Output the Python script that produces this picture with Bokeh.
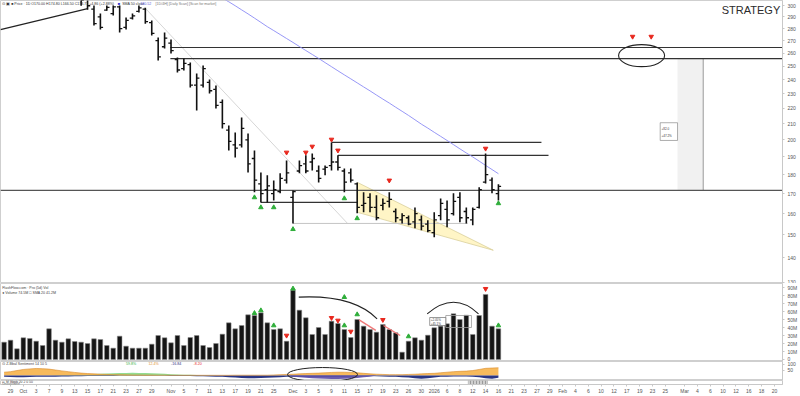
import math
from bokeh.plotting import figure
from bokeh.layouts import column
from bokeh.models import Range1d, FixedTicker, Label, NumeralTickFormatter, ColumnDataSource
from bokeh.core.properties import value
from bokeh.embed import file_html
from bokeh.resources import INLINE

FONT = "Liberation Sans"

# ---------------- data (trading-day index; -1 = 26 Sep 2025, 44 = 1 Dec, 66 = 2 Jan 2026) -------------
bar_idx = list(range(-1, 77))
opens = [312, 318, 326, 335, 345, 352, 356, 350, 345, 340, 325, 318, 310, 306,
         297.0, 290.0, 296.0, 293.0, 299.0, 281.0, 289.0, 295.0, 297.0, 285.0,
         270.0, 265.0, 268.0, 255.0, 248.0, 251.0, 236.0, 236.0, 238.0, 233.0,
         224.0, 206.0, 197.0, 197.0, 200.0, 189.0, 175.0, 172.0, 170.0, 171.0,
         177.0, 168.0, 182.0, 186.0, 187.0, 182.0, 183.0, 185.0, 187.0, 182.0,
         181.0, 175.0, 164.0, 168.0, 163.0, 164.0, 166.0, 161.0, 157.0, 158.0,
         156.0, 157.0, 155.0, 151.0, 159.0, 162.0, 160.0, 168.0, 161.0, 157.0,
         163.0, 176.0, 177.0, 170.0]
highs = [320, 330, 334, 348, 358, 362, 366, 356, 352, 345, 330, 325, 318, 312,
         300.2, 293.0, 300.2, 300.2, 300.2, 289.5, 293.0, 300.2, 298.3, 286.8,
         272.5, 276.6, 270.8, 256.5, 255.7, 252.6, 244.4, 250.4, 240.0, 235.7,
         225.9, 208.9, 204.5, 214.0, 203.9, 193.7, 181.2, 179.6, 176.9, 180.7,
         187.9, 171.6, 187.9, 190.8, 191.9, 185.1, 185.1, 198.4, 190.8, 183.4,
         183.4, 175.8, 170.6, 170.1, 169.1, 167.5, 170.6, 162.5, 160.1, 159.1,
         163.0, 159.1, 156.8, 160.6, 167.5, 166.5, 170.1, 170.6, 163.0, 163.0,
         173.2, 191.9, 178.5, 174.8]
lows = [308, 313, 319, 330, 340, 345, 342, 338, 336, 322, 306, 310, 300, 296.5,
        282.5, 279.1, 295.6, 291.2, 276.6, 279.1, 287.7, 293.9, 284.2, 274.1,
        254.2, 263.6, 259.6, 245.1, 246.6, 234.3, 218.5, 234.3, 230.1, 219.9,
        207.0, 193.7, 189.6, 195.4, 181.2, 170.6, 165.5, 165.5, 166.5, 170.1,
        175.3, 155.3, 180.7, 180.7, 182.3, 175.8, 179.6, 182.3, 182.3, 170.6,
        175.8, 160.1, 160.6, 160.6, 156.8, 161.6, 163.0, 155.8, 155.3, 154.4,
        153.0, 152.1, 151.2, 148.9, 156.8, 153.5, 159.1, 155.8, 155.3, 154.4,
        162.5, 175.3, 170.1, 166.5]
closes = [316, 326, 322, 344, 352, 356, 346, 347, 340, 324, 312, 318, 305, 300,
          284.2, 281.0, 298.5, 299.0, 280.0, 287.0, 291.0, 298.0, 286.0, 276.0,
          257.0, 272.0, 262.0, 247.0, 252.0, 236.0, 241.0, 248.0, 232.0, 222.0,
          210.0, 199.0, 195.0, 207.0, 186.0, 177.0, 170.0, 174.0, 172.0, 178.0,
          181.0, 171.0, 185.0, 182.0, 189.0, 178.0, 184.0, 187.0, 184.0, 176.0,
          177.0, 163.0, 165.0, 163.0, 158.0, 165.0, 167.0, 158.0, 159.0, 155.0,
          160.0, 154.0, 152.0, 157.0, 165.0, 157.0, 166.0, 158.0, 158.0, 162.0,
          172.0, 180.0, 172.0, 173.71]
volume_m = [21.7, 24.2, 13.3, 27.1, 26.3, 22.9, 17.5, 38.3, 24.2, 21.7, 25.8, 22.5, 21.7, 20.0,
            25.8, 25.0, 17.5, 14.2, 29.2, 16.7, 14.2, 14.2, 14.2, 19.2, 30.0, 27.1, 20.8, 30.0,
            17.5, 27.5, 30.0, 17.5, 15.0, 20.0, 31.7, 45.8, 38.3, 42.5, 55.8, 55.0, 58.3, 45.8,
            37.5, 38.3, 22.9, 86.7, 61.7, 52.1, 31.3, 40.0, 31.3, 47.9, 45.0, 37.5, 27.5, 50.0,
            41.7, 37.5, 34.2, 43.8, 37.5, 33.3, 9.2, 22.9, 27.1, 24.2, 30.4, 39.6, 41.7, 44.6,
            57.1, 50.0, 55.4, 31.3, 55.0, 81.3, 41.7, 38.3]

sma_idx = list(range(32, 77))
sma_vals = [310.8, 307.0, 303.6, 300.0, 296.3, 292.7, 289.0, 285.3, 281.6, 278.3, 275.0, 271.7,
            268.5, 265.2, 262.0, 258.9, 255.8, 252.6, 249.5, 246.4, 243.4, 240.5, 237.6, 234.7,
            231.9, 229.0, 226.2, 223.5, 220.7, 218.0, 215.3, 212.5, 209.7, 207.2, 204.6, 202.1,
            199.6, 197.1, 194.6, 192.2, 189.9, 187.5, 185.1, 182.8, 180.5]

# sentiment oscillator components
osc_orange = [30, 35, 45, 55, 60, 64, 62, 58, 50, 42, 35, 28, 22, 18,
              15, 12, 10, 8, 8, 6, 5, 5, 4, 4, 3, 3, 2, 2, 2, 2, 2, 2,
              2, 2, 2, 2, 3, 3, 3, 3, 3, 3, 5, 8, 10,
              12, 15, 18, 20, 22, 25, 28, 30, 30, 28, 25, 20, 15,
              12, 10, 8, 8, 8, 10, 12, 15, 18, 20,
              25, 30, 35, 38, 40, 45, 55, 65, 68, 70]
osc_navy = [-12, -14, -16, -15, -14, -12, -12, -10, -10, -8, -8, -6, -6, -5,
            -5, -5, -4, -4, -3, -3, -3, -3, -3, -3, -3, -3, -4, -4, -5, -5, -6, -6,
            -8, -10, -12, -15, -18, -22, -25, -25, -22, -20, -18, -15, -12,
            -10, -10, -10, -10, -10, -10, -10, -10, -10, -8, -8, -6, -5,
            -6, -8, -10, -12, -15, -18, -25, -30, -25, -18,
            -12, -10, -8, -8, -8, -10, -15, -25, -30, -20]
osc_green = [0, 0, 0, 0, 0, 0, 0, 0, 2, 4, 6, 8, 10, 12,
             14, 16, 18, 20, 22, 24, 25, 24, 22, 20, 18, 15, 12, 10, 8, 6, 4, 3,
             2, 0, 0, 0, 0, 0, 0, 0, 0, 0, 0, 0, 0,
             0, 0, 0, 0, 0, 0, 0, 0, 0, 0, 0, 0, 0,
             0, 0, 0, 0, 0, 0, 0, 0, 0, 0,
             0, 0, 0, 0, 0, 0, 0, 0, 0, 0]
osc_purple = [0] * 45 + [-10, -15, -20, -25, -28, -30, -32, -32, -30, -28, -22, -15, -10] + [0] * 20

# signal arrows
red_idx = [43, 46, 47, 50, 51, 59, 74, 96.9, 99.8]
red_price = [192.5, 192.5, 196.0, 200.2, 193.7, 176.9, 194.8, 273.3, 273.3]
green_idx = [38, 39, 41, 44, 52, 54, 76]
green_price = [168.0, 163.0, 163.0, 152.6, 167.5, 157.7, 165.0]
vol_green_idx = [38, 39, 41, 44, 52, 52, 54, 62, 76]
vol_green_val = [57.9, 61.3, 42.5, 88.5, 77.9, 42.5, 56.3, 28.8, 42.5]
vol_red_idx = [43, 50, 51, 53, 58, 74]
vol_red_val = [30.0, 52.1, 48.8, 35.0, 49.6, 88.4]

# time axis
tick_idx = [0, 2, 4, 6, 8, 10, 12, 14, 16, 18, 20, 22, 25, 27, 29, 31, 33, 35, 37, 39, 41,
            44, 46, 48, 50, 52, 54, 56, 58, 60, 62, 64, 66, 68, 70, 72, 74, 76, 78, 80, 82, 84,
            86, 88, 90, 92, 94, 96, 98, 100, 102, 105, 107, 109, 111, 113, 115, 117, 119]
tick_lab = ["29", "Oct", "3", "7", "9", "13", "15", "17", "21", "23", "27", "29", "Nov", "5", "7",
            "11", "13", "17", "19", "21", "25", "Dec", "3", "5", "9", "11", "15", "17", "19", "23",
            "26", "30", "2026", "6", "8", "12", "14", "16", "21", "23", "27", "29", "Feb", "4", "6",
            "10", "12", "17", "19", "23", "25", "Mar", "4", "6", "10", "12", "16", "18", "20"]
price_ticks = [130, 140, 150, 160, 170, 180, 190, 200, 210, 220, 230, 240, 250, 260, 270, 280, 290, 300]
vol_ticks = [0, 10, 20, 30, 40, 50, 60, 70, 80, 90]

# ---------------- figures -------------
xr = Range1d(-1.56, 120.25)


def make_fig(h, yr, ytype="linear", xloc=None):
    p = figure(width=800, height=h, x_range=xr, y_range=yr, y_axis_type=ytype,
               toolbar_location=None, output_backend="svg",
               min_border_left=0, min_border_right=18, min_border_top=0, min_border_bottom=0,
               y_axis_location="right", x_axis_location=xloc)
    p.grid.visible = False
    p.outline_line_color = "#cfcfcf"
    p.background_fill_color = "white"
    p.border_fill_color = "white"
    ax = p.yaxis[0]
    ax.axis_line_color = "#c8c8c8"
    ax.major_tick_line_color = "#c8c8c8"
    ax.minor_tick_line_color = None
    ax.major_tick_out = 2
    ax.major_tick_in = 0
    ax.major_label_standoff = 3
    ax.major_label_text_font_size = "5px"
    ax.major_label_text_color = "#555555"
    ax.major_label_text_font = FONT
    return p


def label(p, x, y, text, size="4px", color="#444444", align="left", bg=None, border=None, bold=False):
    lab = Label(x=x, y=y, text=text, text_font_size=size, text_color=color, text_align=align,
                text_baseline="middle", text_font=FONT, background_fill_color=bg,
                border_line_color=border, text_font_style="bold" if bold else "normal")
    p.add_layout(lab)


# ---- price panel ----
p1 = make_fig(283, Range1d(129.5, 304.8), ytype="log")
p1.yaxis.ticker = FixedTicker(ticks=price_ticks)
p1.yaxis.formatter = NumeralTickFormatter(format="0")

# projection shading
p1.quad(left=[103.9], right=[107.9], bottom=[171.6], top=[255.7], fill_color="#f1f1f1", line_color=None)
p1.segment(x0=[107.9], y0=[255.7], x1=[107.9], y1=[171.6], line_color="#9a9a9a", line_width=1)

# wedge
p1.patch(x=[54.05, 75.2, 54.05], y=[175.8, 143.2, 160.6], fill_color="#fff2b3", fill_alpha=0.75,
         line_color="#d9cf9a", line_width=0.8)

# drawn lines
p1.segment(x0=[-1.56], y0=[279.1], x1=[12.0], y1=[297.4], line_color="#222222", line_width=1.2)
p1.segment(x0=[20.9], y0=[298.3], x1=[52.5], y1=[155.3], line_color="#d6d6d6", line_width=1)
p1.segment(x0=[44, -1.56], y0=[155.3, 171.6], x1=[71.2, 120.25], y1=[155.3, 171.6],
           line_color=["#c4c4c4", "#555555"], line_width=[1, 1.2])
p1.segment(x0=[24.9, 24.9, 50, 51, 39], y0=[264.4, 255.7, 198.4, 190.8, 165.5],
           x1=[120.25, 120.25, 82.7, 83.8, 54], y1=[264.4, 255.7, 198.4, 190.8, 165.5],
           line_color="#333333", line_width=1.2)

# moving average
p1.line(sma_idx, sma_vals, line_color="#8c8cf5", line_width=1, line_alpha=0.9)

# OHLC bars
src = ColumnDataSource(dict(x=bar_idx, xl=[i - 0.42 for i in bar_idx], xr=[i + 0.42 for i in bar_idx],
                            o=opens, h=highs, l=lows, c=closes))
p1.segment(x0="x", y0="h", x1="x", y1="l", source=src, line_color="#111111", line_width=1.6)
p1.segment(x0="xl", y0="o", x1="x", y1="o", source=src, line_color="#111111", line_width=1.3)
p1.segment(x0="x", y0="c", x1="xr", y1="c", source=src, line_color="#111111", line_width=1.3)

# arrows
p1.scatter(red_idx, red_price, marker="inverted_triangle", size=4.5, fill_color="#e8281e", line_color="#e8281e")
p1.scatter(green_idx, green_price, marker="triangle", size=4.5, fill_color="#2fae3a", line_color="#2fae3a")

# ellipse target
p1.ellipse(x=[98.3], y=[258.0], width=[46], height=[22], width_units="screen", height_units="screen",
           fill_color=None, line_color="#222222", line_width=1.1)

# measure box
p1.quad(left=[101.2], right=[103.9], bottom=[199.6], top=[210.6], fill_color="white", line_color="#777777",
        line_width=0.6)
label(p1, 101.4, 207.3, "+82.0", size="3px", color="#333")
label(p1, 101.4, 202.4, "+47.2%", size="3px", color="#333")

# header texts
label(p1, -1.3, 302.0, "\u2299 \u25A3  \u25A0 Price \u00B7 1D  O170.00 H174.80 L166.50 C173.71 +4.86 (+2.88%)",
      size="3.6px", color="#333")
label(p1, 16.7, 302.0, "\u25A0", size="4px", color="#3535d0")
label(p1, 17.4, 302.0, "SMA 50  close", size="3.6px", color="#333")
label(p1, 20.2, 302.0, "180.52", size="3.6px", color="#5b5bdc")
label(p1, 22.6, 302.0, "[1D/4H]  [Daily Scan]  [Scan for market]", size="3.6px", color="#777")
label(p1, 119.9, 296.0, "STRATEGY", size="11px", color="#2b2b2b", align="right")

# right-axis value tags
label(p1, 120.7, 173.71, "173.71", size="5px", color="#111", bg="#f4d31c", bold=True)
label(p1, 120.7, 180.5, "180.52", size="5px", color="#6b6be0", bg="#eeeeff")

# ---- volume panel ----
p2 = make_fig(78, Range1d(-2.5, 95))
p2.yaxis.ticker = FixedTicker(ticks=vol_ticks)
p2.yaxis.major_label_overrides = {t: ("0" if t == 0 else f"{t}M") for t in vol_ticks}
p2.vbar(x=bar_idx, top=volume_m, bottom=0, width=0.72, fill_color="#151515", line_color="#8a8a8a",
        line_width=0.5)
p2.segment(x0=[54.3, 58.1], y0=[49.6, 42.5], x1=[56.9, 60.7], y1=[36.3, 30.0],
           line_color="#f07a7a", line_width=1.4)
p2.bezier(x0=[44.9], y0=[78.0], x1=[57.1], y1=[50.9], cx0=[50.0], cy0=[80.0], cx1=[54.5], cy1=[72.0],
          line_color="#222222", line_width=1.1)
p2.quadratic(x0=[64.9], y0=[57.1], x1=[72.9], y1=[57.1], cx=[69.1], cy=[86.1],
             line_color="#222222", line_width=1.1)
p2.quad(left=[67.8], right=[71.8], bottom=[40.0], top=[55.0], fill_color=None, line_color="#9a9a9a",
        line_width=0.8)
p2.quad(left=[65.3], right=[67.8], bottom=[42.5], top=[52.5], fill_color="white", line_color="#555555",
        line_width=0.6)
label(p2, 65.45, 50.0, "+2.05%", size="3px", color="#333")
label(p2, 65.45, 45.2, "+45.1%", size="3px", color="#333")
p2.scatter(vol_green_idx, vol_green_val, marker="triangle", size=4.5, fill_color="#2fae3a", line_color="#2fae3a")
p2.scatter(vol_red_idx, vol_red_val, marker="inverted_triangle", size=4.5, fill_color="#e8281e",
           line_color="#e8281e")
label(p2, -1.3, 89.5, "FlashFlow.com \u00B7 Pro (5d) Vol", size="3.6px", color="#444")
label(p2, -1.3, 83.0, "\u25CF Volume  74.5M   \u25A1 SMA 20  41.2M", size="3.6px", color="#444")
label(p2, 120.7, 38.3, "38.3M", size="4.5px", color="#222", bg="#eeeeee", border="#aaaaaa")

# ---- oscillator panel ----
p3 = make_fig(19, Range1d(-45, 127))
p3.yaxis.ticker = FixedTicker(ticks=[50, 100])
p3.varea(x=bar_idx, y1=[0] * len(bar_idx), y2=osc_green, fill_color="#86d886", fill_alpha=0.9)
p3.varea(x=bar_idx, y1=[0] * len(bar_idx), y2=osc_orange, fill_color="#f6b24a", fill_alpha=0.9)
p3.varea(x=bar_idx, y1=osc_navy, y2=[0] * len(bar_idx), fill_color="#1f2b7e", fill_alpha=0.95)
p3.varea(x=bar_idx, y1=osc_purple, y2=[0] * len(bar_idx), fill_color="#5a4aa6", fill_alpha=0.9)
p3.line(bar_idx, osc_orange, line_color="#d98a2a", line_width=0.6)
p3.ellipse(x=[48.6], y=[9.0], width=[70], height=[14], width_units="screen", height_units="screen",
           fill_color=None, line_color="#222222", line_width=1)
label(p3, -1.3, 105, "\u2299 Z-Bbal Sentiment 14 10 5", size="3.6px", color="#444")
label(p3, 18.0, 105, "59.8%", size="3.6px", color="#2fae3a")
label(p3, 21.5, 105, "12.4%", size="3.6px", color="#e0902a")
label(p3, 25.0, 105, "-16.84", size="3.6px", color="#1f2b7e")
label(p3, 28.5, 105, "-8.20", size="3.6px", color="#e8281e")
label(p3, 120.7, -16, "-16.84", size="4.5px", color="#0a4d46", bg="#8fe6da")

# ---- bottom panel + time axis ----
p4 = make_fig(16, Range1d(0, 1), xloc="below")
p4.yaxis.ticker = FixedTicker(ticks=[])
p4.quad(left=[71.3], right=[74.3], bottom=[0], top=[1], fill_color="#cfcfcf", line_color="#a0a0a0",
        hatch_pattern="vertical_line", hatch_color="#9a9a9a", hatch_scale=3, line_width=0.5)
label(p4, -1.3, 0.7, "\u2299 M Bbpb 20 2 0 50", size="3.4px", color="#444")
label(p4, -1.3, 0.25, "Unavailable", size="3.4px", color="#666")
xa = p4.xaxis[0]
xa.ticker = FixedTicker(ticks=tick_idx)
xa.major_label_overrides = {t: s for t, s in zip(tick_idx, tick_lab)}
xa.major_label_text_font_size = "5px"
xa.major_label_text_color = "#555555"
xa.major_label_text_font = FONT
xa.axis_line_color = "#c8c8c8"
xa.major_tick_line_color = "#c8c8c8"
xa.minor_tick_line_color = None
xa.major_tick_out = 2
xa.major_tick_in = 0
xa.major_label_standoff = 1

layout = column(p1, p2, p3, p4, spacing=0)
open("out.html", "w").write(file_html(layout, INLINE))
